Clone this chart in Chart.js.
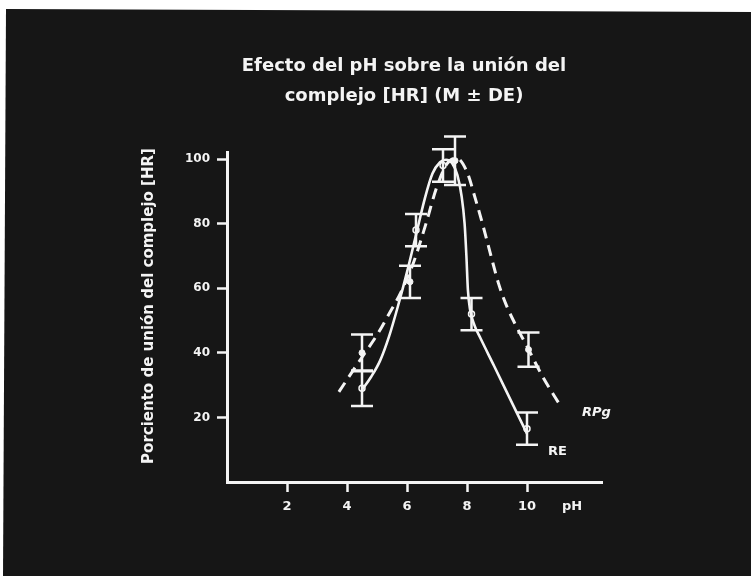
<!DOCTYPE html>
<html>
<head>
<meta charset="utf-8">
<script src="https://cdn.jsdelivr.net/npm/chart.js@4.4.1/dist/chart.umd.min.js"></script>
<style>
  html, body { margin: 0; padding: 0; background: #ffffff; }
  #stage { position: relative; width: 751px; height: 576px; overflow: hidden; background: #ffffff; }
  #panel { position: absolute; left: 0; top: 0; width: 751px; height: 576px; background: #161616;
           clip-path: polygon(6px 9px, 751px 12px, 751px 576px, 3px 576px); }
  canvas { position: absolute; left: 0; top: 0; }
</style>
</head>
<body>
<div id="stage">
  <div id="panel"></div>
  <canvas id="chart" width="751" height="576"></canvas>
</div>
<script>
// Fitted binding curves (pH vs % binding)
const reCurvePH   = [4.5, 4.8, 5.1, 5.4, 5.7, 6.0, 6.3, 6.6, 6.85, 7.1, 7.3, 7.5, 7.68, 7.82, 7.92, 7.98, 8.03, 8.1, 8.25, 8.45, 8.9, 9.5, 10.0];
const reCurveVal  = [28.5, 32.5, 37.5, 45.0, 54.5, 65.0, 76.5, 88.0, 95.5, 99.0, 99.8, 98.8, 95.0, 88.5, 80.0, 70.0, 59.5, 53.5, 48.5, 44.5, 36.0, 24.5, 15.0];
const rpgCurvePH  = [3.73, 4.2, 4.6, 5.0, 5.4, 5.8, 6.2, 6.6, 7.0, 7.33, 7.65, 8.0, 8.27, 8.53, 8.8, 9.05, 9.3, 9.6, 10.0, 10.5, 11.1];
const rpgCurveVal = [27.9, 34.5, 40.0, 45.5, 52.0, 58.8, 67.5, 79.0, 91.5, 98.5, 100.3, 96.0, 88.0, 79.5, 70.0, 61.5, 55.0, 49.0, 42.0, 33.0, 23.8];

// Measured means with standard deviations
const rePH   = [4.5, 6.3, 7.2, 8.15, 10.0];
const reMean = [29, 78, 98, 52, 16.5];
const reSD   = [5.5, 5, 5, 5, 5];
const rpgPH   = [4.5, 6.1, 7.6, 10.05];
const rpgMean = [40, 62, 99.5, 41];
const rpgSD   = [5.7, 5, 7.5, 5.3];

// Axis ticks and text
const xTicks = [2, 4, 6, 8, 10];
const xUnitTick = 11.5;
const yTicks = [20, 40, 60, 80, 100];
const titleLines = ['Efecto del pH sobre la unión del', 'complejo [HR] (M ± DE)'];
const yTitle = 'Porciento de unión del complejo [HR]';
const seriesNames = ['RE', 'RPg'];

const INK = '#f4f4f4';
const FONT = "'DejaVu Sans', Verdana, sans-serif";

const pts = (xs, ys) => xs.map((x, i) => ({ x: x, y: ys[i] }));

// Draws mean ± SD bars, the heading, the value-axis caption and the curve names
const decorations = {
  id: 'decorations',
  afterDatasetsDraw(chart) {
    const { ctx } = chart;
    const xs = chart.scales.x, ys = chart.scales.y;
    ctx.save();
    ctx.strokeStyle = INK;
    ctx.lineWidth = 2.5;
    ctx.lineCap = 'butt';
    const cap = 11;
    const bars = [[rePH, reMean, reSD], [rpgPH, rpgMean, rpgSD]];
    bars.forEach(([px, m, sd]) => {
      px.forEach((p, i) => {
        const x = xs.getPixelForValue(p);
        const yt = ys.getPixelForValue(m[i] + sd[i]);
        const yb = ys.getPixelForValue(m[i] - sd[i]);
        ctx.beginPath();
        ctx.moveTo(x, yt); ctx.lineTo(x, yb);
        ctx.moveTo(x - cap, yt); ctx.lineTo(x + cap, yt);
        ctx.moveTo(x - cap, yb); ctx.lineTo(x + cap, yb);
        ctx.stroke();
      });
    });
    ctx.restore();
  },
  afterDraw(chart, args, opts) {
    const { ctx } = chart;
    const xs = chart.scales.x, ys = chart.scales.y;
    ctx.save();
    ctx.fillStyle = INK;
    ctx.textAlign = 'center';
    ctx.textBaseline = 'alphabetic';
    ctx.font = 'bold 18px ' + FONT;
    titleLines.forEach((t, i) => ctx.fillText(t, opts.titleX, opts.titleY + i * opts.titleStep));

    ctx.save();
    ctx.translate(opts.axisTitleX, opts.axisTitleY);
    ctx.rotate(-Math.PI / 2);
    ctx.textBaseline = 'middle';
    ctx.font = 'bold 15px ' + FONT;
    ctx.fillText(yTitle, 0, 0);
    ctx.restore();

    ctx.textAlign = 'left';
    opts.names.forEach((n, i) => {
      ctx.font = (n.italic ? 'italic ' : '') + 'bold 13px ' + FONT;
      ctx.fillText(seriesNames[i], xs.getPixelForValue(n.x), ys.getPixelForValue(n.y));
    });
    ctx.restore();
  }
};

new Chart(document.getElementById('chart'), {
  type: 'line',
  data: {
    datasets: [
      { label: seriesNames[0], data: pts(reCurvePH, reCurveVal), borderColor: INK, borderWidth: 2.6,
        pointRadius: 0, cubicInterpolationMode: 'monotone', fill: false },
      { label: seriesNames[1], data: pts(rpgCurvePH, rpgCurveVal), borderColor: INK, borderWidth: 3,
        borderDash: [11, 7], pointRadius: 0, cubicInterpolationMode: 'monotone', fill: false },
      { label: seriesNames[0] + ' M', data: pts(rePH, reMean), showLine: false,
        pointRadius: 3, pointBackgroundColor: '#161616', pointBorderColor: INK, pointBorderWidth: 1.5 },
      { label: seriesNames[1] + ' M', data: pts(rpgPH, rpgMean), showLine: false,
        pointRadius: 3, pointBackgroundColor: INK, pointBorderColor: INK, pointBorderWidth: 1 }
    ]
  },
  options: {
    responsive: false,
    animation: false,
    layout: { padding: { left: 0, right: 149, top: 152.6, bottom: 0 } },
    plugins: {
      legend: { display: false },
      tooltip: { enabled: false },
      title: { display: false },
      decorations: {
        titleX: 404, titleY: 70.5, titleStep: 30,
        axisTitleX: 149, axisTitleY: 306,
        names: [ { x: 10.7, y: 8.4, italic: false }, { x: 11.83, y: 20.4, italic: true } ]
      }
    },
    scales: {
      x: {
        type: 'linear', min: 0, max: 12.5,
        afterFit: s => { s.height = 94; },
        afterBuildTicks: s => { s.ticks = xTicks.concat([xUnitTick]).map(v => ({ value: v })); },
        border: { display: true, color: INK, width: 3 },
        grid: { drawOnChartArea: false, drawTicks: true, tickLength: 10, tickWidth: 2.5,
                tickColor: c => (c.tick && c.tick.value === xUnitTick) ? 'rgba(0,0,0,0)' : INK },
        ticks: { color: INK, font: { family: FONT, size: 13, weight: 'bold' }, padding: 7,
                 maxRotation: 0, autoSkip: false,
                 callback: v => v === xUnitTick ? 'pH' : String(v) }
      },
      y: {
        type: 'linear', min: 0, max: 102,
        afterFit: s => { s.width = 227; },
        afterBuildTicks: s => { s.ticks = yTicks.map(v => ({ value: v })); },
        border: { display: true, color: INK, width: 3 },
        grid: { drawOnChartArea: false, drawTicks: true, tickLength: 10, tickWidth: 2.5, tickColor: INK },
        ticks: { color: INK, font: { family: FONT, size: 12, weight: 'bold' }, padding: 7,
                 autoSkip: false, callback: v => String(v) }
      }
    }
  },
  plugins: [decorations]
});
</script>
</body>
</html>
